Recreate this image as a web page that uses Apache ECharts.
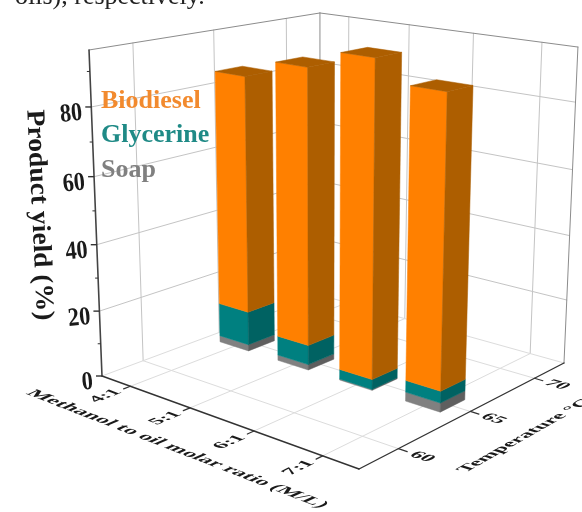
<!DOCTYPE html>
<html>
<head>
<meta charset="utf-8">
<script src="https://cdn.jsdelivr.net/npm/echarts@6/dist/echarts.min.js"></script>
<style>
  html, body { margin: 0; background: #fff; }
  #chart { width: 582px; height: 512px; }
</style>
</head>
<body>
<div id="chart"></div>
<script>
// values
const ratios = ["4:1", "5:1", "6:1", "7:1"];
const temps = [60, 65, 70];
const barTemp = 65;
const soap = [2, 1.7, 0.3, 2.7];
const glycerine = [10.5, 6, 3, 3.5];
const biodiesel = [72.5, 83, 93, 84];
const yieldTicks = [0, 20, 40, 60, 80];
const yieldMinor = [10, 30, 50, 70, 90];

// axis ranges
const xMin = 0, xMax = 4;
const yMin = 57.5, yMax = 72.5;
const zMax = 96;
const barHalfX = 0.25, barHalfY = 0.9;

const SERIF = '"Liberation Serif", serif';

// projective camera: floor corners on screen + vanishing point of the verticals
const H = (function (p0, p1, p2, p3) {
  const dx1 = p1[0] - p2[0], dx2 = p3[0] - p2[0], sx = p0[0] - p1[0] + p2[0] - p3[0];
  const dy1 = p1[1] - p2[1], dy2 = p3[1] - p2[1], sy = p0[1] - p1[1] + p2[1] - p3[1];
  const den = dx1 * dy2 - dx2 * dy1;
  const g = (sx * dy2 - dx2 * sy) / den;
  const h = (dx1 * sy - sx * dy1) / den;
  return {
    a: p1[0] - p0[0] + g * p1[0], b: p3[0] - p0[0] + h * p3[0], c: p0[0],
    d: p1[1] - p0[1] + g * p1[1], e: p3[1] - p0[1] + h * p3[1], f: p0[1],
    g: g, h: h
  };
})([102, 376], [359, 469], [564, 363], [320, 295]);
const vanish = [321, 5876];
const zPull = -0.05596;

function project(x, y, z) {
  const u = (x - xMin) / (xMax - xMin);
  const v = (y - yMin) / (yMax - yMin);
  const t = (z / zMax) * zPull;
  const X = H.a * u + H.b * v + H.c + t * vanish[0];
  const Y = H.d * u + H.e * v + H.f + t * vanish[1];
  const W = H.g * u + H.h * v + 1 + t;
  return [X / W, Y / W];
}

// x positions are category bands: 4:1 sits at 0.5 etc
function catX(i) {
  return i + 0.5;
}

function segment(a, b, color, width) {
  const p = project(a[0], a[1], a[2]);
  const q = project(b[0], b[1], b[2]);
  return {
    type: "line",
    shape: { x1: p[0], y1: p[1], x2: q[0], y2: q[1] },
    style: { stroke: color, lineWidth: width, lineCap: "round" }
  };
}

// text lying in a plane: baseline and "down" are taken from the local projection
function planeText(text, at, along, down, size, squash) {
  const p = project(at[0], at[1], at[2]);
  const pu = project(at[0] + along[0], at[1] + along[1], at[2] + along[2]);
  const pd = project(at[0] + down[0], at[1] + down[1], at[2] + down[2]);
  const theta = Math.atan2(pu[1] - p[1], pu[0] - p[0]);
  const dl = Math.atan2(pd[1] - p[1], pd[0] - p[0]) - theta;
  const dx = Math.cos(dl), dy = Math.sin(dl);
  return {
    type: "text",
    x: p[0],
    y: p[1],
    rotation: -theta,
    scaleY: dy * squash,
    skewX: Math.atan(dx / dy),
    style: {
      text: text,
      font: "bold " + size + "px " + SERIF,
      fill: "#1a1a1a",
      align: "center",
      verticalAlign: "middle"
    }
  };
}

function frameItems() {
  const out = [];
  const wall = "#c4c4c4", floor = "#dcdcdc", edge = "#8c8c8c";
  yieldTicks.slice(1).forEach(function (z) {
    out.push(segment([xMin, yMin, z], [xMin, yMax, z], wall, 1));
    out.push(segment([xMin, yMax, z], [xMax, yMax, z], wall, 1));
  });
  temps.forEach(function (t) {
    out.push(segment([xMin, t, 0], [xMax, t, 0], floor, 1));
    out.push(segment([xMin, t, 0], [xMin, t, zMax], wall, 1));
  });
  ratios.forEach(function (r, i) {
    out.push(segment([catX(i), yMin, 0], [catX(i), yMax, 0], floor, 1));
    out.push(segment([catX(i), yMax, 0], [catX(i), yMax, zMax], wall, 1));
  });
  out.push(segment([xMin, yMin, 0], [xMin, yMax, 0], floor, 1));
  out.push(segment([xMin, yMax, 0], [xMax, yMax, 0], floor, 1));
  out.push(segment([xMin, yMin, zMax], [xMin, yMax, zMax], edge, 1));
  out.push(segment([xMin, yMax, zMax], [xMax, yMax, zMax], edge, 1));
  out.push(segment([xMin, yMax, 0], [xMin, yMax, zMax], edge, 1));
  out.push(segment([xMax, yMax, 0], [xMax, yMax, zMax], edge, 1));
  return out;
}

function axisItems() {
  const out = [];
  const ink = "#333";
  out.push(segment([xMin, yMin, 0], [xMin, yMin, zMax], "#444", 1.6));
  out.push(segment([xMin, yMin, 0], [xMax, yMin, 0], ink, 1.4));
  out.push(segment([xMax, yMin, 0], [xMax, yMax, 0], ink, 1.4));

  yieldTicks.forEach(function (z) {
    const p = project(xMin, yMin, z);
    out.push({ type: "line", shape: { x1: p[0] - 6, y1: p[1], x2: p[0], y2: p[1] }, style: { stroke: ink, lineWidth: 1.4 } });
    out.push({
      type: "text",
      x: p[0] - 9,
      y: p[1] + 6,
      rotation: 0.1,
      scaleX: 0.86,
      style: { text: String(z), font: "bold 26px " + SERIF, fill: "#1a1a1a", align: "right", verticalAlign: "middle" }
    });
  });
  yieldMinor.forEach(function (z) {
    const p = project(xMin, yMin, z);
    out.push({ type: "line", shape: { x1: p[0] - 3, y1: p[1], x2: p[0], y2: p[1] }, style: { stroke: ink, lineWidth: 1 } });
  });

  ratios.forEach(function (r, i) {
    out.push(segment([catX(i), yMin - 0.4, 0], [catX(i), yMin, 0], ink, 1.2));
    out.push(planeText(r, [catX(i), yMin - 1.45, 0], [0, 1, 0], [1, 0, 0], 21, 0.8));
  });
  temps.forEach(function (t) {
    out.push(segment([xMax, t, 0], [xMax + 0.12, t, 0], ink, 1.2));
    out.push(planeText(String(t), [xMax + 0.32, t, 0], [1, 0, 0], [0, -1, 0], 21, 0.8));
  });

  out.push(planeText("Methanol to oil molar ratio (M/L)", [2.2, yMin - 3.3, 0], [1, 0, 0], [0, -1, 0], 22, 0.8));
  out.push(planeText("Temperature \u00b0C", [xMax + 0.85, yMin + 6.9, 0], [0, 1, 0], [1, 0, 0], 21, 0.8));

  out.push({
    type: "text",
    x: 39,
    y: 215,
    rotation: -87.3 * Math.PI / 180,
    scaleX: 1.06,
    style: { text: "Product yield (%)", font: "bold 26px " + SERIF, fill: "#1a1a1a", align: "center", verticalAlign: "middle" }
  });
  return out;
}

function staticSeries(name, build, z) {
  return {
    type: "custom",
    name: name,
    coordinateSystem: "none",
    silent: true,
    z: z,
    data: [[0]],
    renderItem: function () {
      return { type: "group", children: build() };
    }
  };
}

function barSeries(name, values, bases, colors, withTop) {
  return {
    type: "custom",
    name: name,
    coordinateSystem: "none",
    silent: true,
    z: 5,
    itemStyle: { color: colors.front },
    data: values.map(function (v, i) {
      return [i, bases[i], bases[i] + v];
    }),
    renderItem: function (params, api) {
      const i = api.value(0), lo = api.value(1), hi = api.value(2);
      const x0 = catX(i) - barHalfX, x1 = catX(i) + barHalfX;
      const y0 = barTemp - barHalfY, y1 = barTemp + barHalfY;
      const face = function (pts, fill) {
        return {
          type: "polygon",
          z2: i,
          shape: { points: pts.map(function (p) { return project(p[0], p[1], p[2]); }) },
          style: { fill: fill, stroke: fill, lineWidth: 0.5 }
        };
      };
      const kids = [
        face([[x0, y0, lo], [x1, y0, lo], [x1, y0, hi], [x0, y0, hi]], colors.front),
        face([[x1, y0, lo], [x1, y1, lo], [x1, y1, hi], [x1, y0, hi]], colors.side)
      ];
      if (withTop) {
        kids.push(face([[x0, y0, hi], [x1, y0, hi], [x1, y1, hi], [x0, y1, hi]], colors.side));
      }
      return { type: "group", children: kids };
    }
  };
}

const zeros = ratios.map(function () { return 0; });
const soapTop = soap.map(function (v, i) { return zeros[i] + v; });
const glyTop = glycerine.map(function (v, i) { return soapTop[i] + v; });

const chart = echarts.init(document.getElementById("chart"));
chart.setOption({
  animation: false,
  backgroundColor: "#fff",
  legend: {
    orient: "vertical",
    left: 91,
    top: 83,
    itemGap: 8.5,
    itemWidth: 0,
    itemHeight: 0,
    selectedMode: false,
    textStyle: { fontFamily: SERIF, fontWeight: "bold", fontSize: 26, lineHeight: 26 },
    data: [
      { name: "Biodiesel", icon: "none", textStyle: { color: "#f28a2e" } },
      { name: "Glycerine", icon: "none", textStyle: { color: "#1f8a86" } },
      { name: "Soap", icon: "none", textStyle: { color: "#808080" } }
    ]
  },
  graphic: [
    {
      type: "text",
      left: 15,
      top: -16,
      style: { text: "oils), respectively.", font: "26px " + SERIF, fill: "#222" }
    }
  ],
  series: [
    staticSeries("frame", frameItems, 1),
    staticSeries("axes", axisItems, 2),
    barSeries("Soap", soap, zeros, { front: "#808080", side: "#5f5f5f" }, false),
    barSeries("Glycerine", glycerine, soapTop, { front: "#008080", side: "#006262" }, false),
    barSeries("Biodiesel", biodiesel, glyTop, { front: "#ff8000", side: "#ad5e00" }, true)
  ]
});
</script>
</body>
</html>
